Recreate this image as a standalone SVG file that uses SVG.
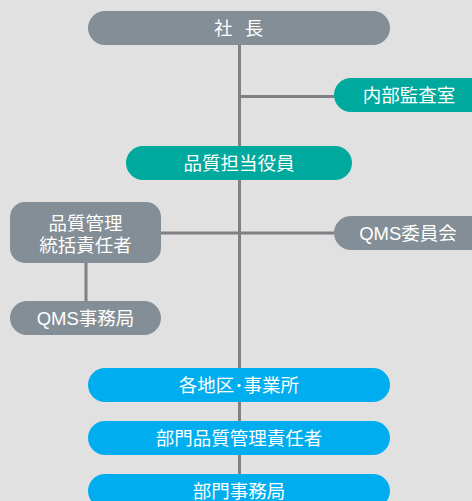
<svg xmlns="http://www.w3.org/2000/svg" width="472" height="501" viewBox="0 0 472 501">
<style>
.t{font-family:"Liberation Sans","Noto Sans CJK JP",sans-serif;font-size:18.5px;fill:#ffffff;text-anchor:middle}
.g{fill:#838e96}
.tl{fill:#00a99d}
.b{fill:#00aeef}
.c{stroke:#808084;stroke-width:3;fill:none}
</style>
<rect width="472" height="501" fill="#e1e1e1"/>
<g id="connectors">
<line class="c" x1="239.5" y1="45" x2="239.5" y2="368"/>
<line class="c" x1="239.5" y1="96.5" x2="334" y2="96.5"/>
<line class="c" x1="161" y1="233" x2="334" y2="233"/>
<line class="c" x1="86" y1="263" x2="86" y2="301"/>
<line class="c" x1="239.5" y1="402" x2="239.5" y2="421"/>
<line class="c" x1="239.5" y1="455" x2="239.5" y2="474"/>
</g>
<g id="shacho">
<rect class="g" x="88" y="11" width="302" height="34" rx="17"/>
<text class="t" x="214" y="35" style="text-anchor:start;letter-spacing:3.5px">社 長</text>
</g>
<g id="naibu">
<rect class="tl" x="334" y="78" width="160" height="34" rx="17"/>
<text class="t" x="409" y="101.5">内部監査室</text>
</g>
<g id="hinshitsu-tanto">
<rect class="tl" x="126" y="146" width="226" height="34" rx="17"/>
<text class="t" x="239" y="169.5">品質担当役員</text>
</g>
<g id="tokatsu">
<rect class="g" x="10" y="202" width="151" height="61" rx="15"/>
<text class="t"><tspan x="85.5" y="230">品質管理</tspan><tspan x="85.5" y="252">統括責任者</tspan></text>
</g>
<g id="qms-iinkai">
<rect class="g" x="334" y="216" width="160" height="34" rx="17"/>
<text class="t" x="408" y="239.5">QMS委員会</text>
</g>
<g id="qms-jimukyoku">
<rect class="g" x="10" y="301" width="151" height="34" rx="17"/>
<text class="t" x="85.5" y="324.5">QMS事務局</text>
</g>
<g id="kakuchiku">
<rect class="b" x="88" y="368" width="302" height="34" rx="17"/>
<text class="t" x="239" y="391.5">各地区･事業所</text>
</g>
<g id="bumon-sekininsha">
<rect class="b" x="88" y="421" width="302" height="34" rx="17"/>
<text class="t" x="239" y="444.5">部門品質管理責任者</text>
</g>
<g id="bumon-jimukyoku">
<rect class="b" x="88" y="474" width="302" height="34" rx="17"/>
<text class="t" x="239" y="497.5">部門事務局</text>
</g>
</svg>
